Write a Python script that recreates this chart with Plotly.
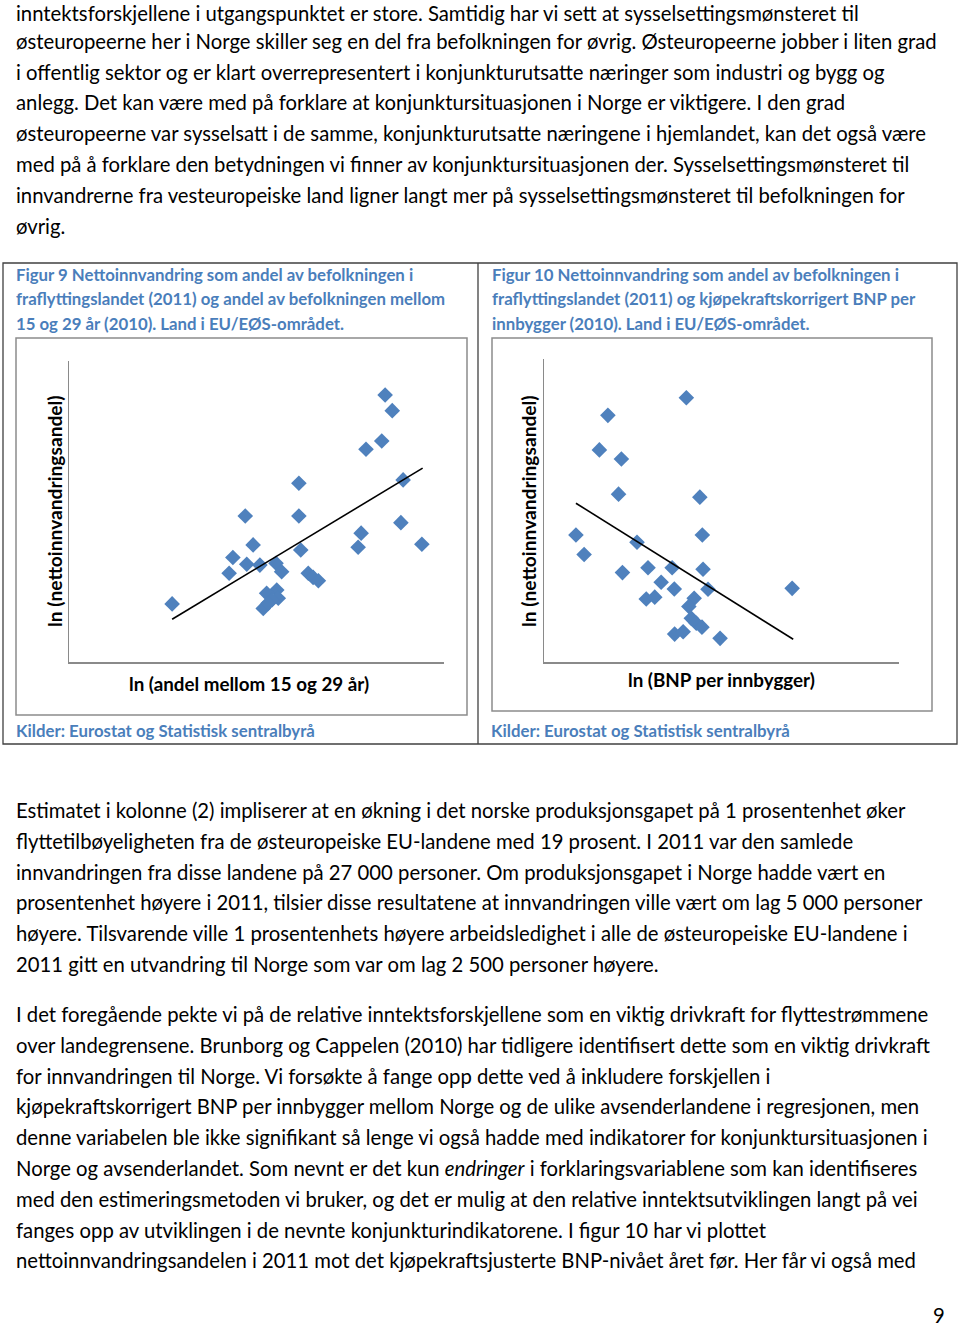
import plotly.graph_objects as go

W, H = 960, 1330

# ---------------- data (arbitrary index units) -------------
fig9_x = [84.3, 86.2, 83.4, 79.2, 89.1, 61.3, 47.0, 61.3, 88.5, 77.9, 77.1, 94.1, 49.1, 61.8, 43.7,
          47.4, 50.9, 55.2, 56.7, 42.7, 63.8, 65.1, 66.5, 27.5, 55.4, 52.7, 55.8, 54.1, 51.8, 53.1]
fig9_y = [88.7, 83.5, 73.4, 70.7, 60.5, 59.4, 48.5, 48.5, 46.3, 42.8, 38.1, 39.1, 38.9, 37.2, 34.7,
          32.5, 32.2, 32.8, 30.0, 29.5, 29.5, 28.1, 27.0, 19.3, 23.9, 22.8, 21.2, 20.6, 17.8, 19.5]
fig9_trend_x = [27.5, 94.3]
fig9_trend_y = [14.2, 64.4]

fig10_x = [40.1, 18.0, 15.6, 21.8, 21.0, 43.9, 9.0, 44.6, 26.2, 11.3, 22.1, 29.3, 36.1, 44.8,
           33.0, 36.7, 46.2, 69.9, 28.8, 31.2, 42.3, 40.8, 41.5, 42.9, 44.5, 36.8, 39.2, 49.6]
fig10_y = [87.2, 81.4, 70.0, 67.0, 55.4, 54.4, 41.9, 41.9, 39.5, 35.5, 29.5, 31.1, 31.1, 30.6,
           26.3, 24.1, 24.0, 24.3, 20.8, 21.4, 21.0, 18.3, 14.4, 12.8, 11.5, 9.2, 10.0, 7.8]
fig10_trend_x = [9.0, 70.2]
fig10_trend_y = [52.4, 7.5]

fig9_title = ["Figur 9 Nettoinnvandring som andel av befolkningen i",
              "fraflyttingslandet (2011) og andel av befolkningen mellom",
              "15 og 29 år (2010). Land i EU/EØS-området."]
fig10_title = ["Figur 10 Nettoinnvandring som andel av befolkningen i",
               "fraflyttingslandet (2011) og kjøpekraftskorrigert BNP per",
               "innbygger (2010). Land i EU/EØS-området."]
source_text = "Kilder: Eurostat og Statistisk sentralbyrå"
y_title = "ln (nettoinnvandringsandel)"
fig9_xtitle = "ln (andel mellom 15 og 29 år)"
fig10_xtitle = "ln (BNP per innbygger)"

para_top = [
    "inntektsforskjellene i utgangspunktet er store. Samtidig har vi sett at sysselsettingsmønsteret til",
    "østeuropeerne her i Norge skiller seg en del fra befolkningen for øvrig. Østeuropeerne jobber i liten grad",
    "i offentlig sektor og er klart overrepresentert i konjunkturutsatte næringer som industri og bygg og",
    "anlegg. Det kan være med på forklare at konjunktursituasjonen i Norge er viktigere. I den grad",
    "østeuropeerne var sysselsatt i de samme, konjunkturutsatte næringene i hjemlandet, kan det også være",
    "med på å forklare den betydningen vi finner av konjunktursituasjonen der. Sysselsettingsmønsteret til",
    "innvandrerne fra vesteuropeiske land ligner langt mer på sysselsettingsmønsteret til befolkningen for",
    "øvrig.",
]
para_mid = [
    "Estimatet i kolonne (2) impliserer at en økning i det norske produksjonsgapet på 1 prosentenhet øker",
    "flyttetilbøyeligheten fra de østeuropeiske EU-landene med 19 prosent. I 2011 var den samlede",
    "innvandringen fra disse landene på 27 000 personer. Om produksjonsgapet i Norge hadde vært en",
    "prosentenhet høyere i 2011, tilsier disse resultatene at innvandringen ville vært om lag 5 000 personer",
    "høyere. Tilsvarende ville 1 prosentenhets høyere arbeidsledighet i alle de østeuropeiske EU-landene i",
    "2011 gitt en utvandring til Norge som var om lag 2 500 personer høyere.",
]
para_bot = [
    "I det foregående pekte vi på de relative inntektsforskjellene som en viktig drivkraft for flyttestrømmene",
    "over landegrensene. Brunborg og Cappelen (2010) har tidligere identifisert dette som en viktig drivkraft",
    "for innvandringen til Norge. Vi forsøkte å fange opp dette ved å inkludere forskjellen i",
    "kjøpekraftskorrigert BNP per innbygger mellom Norge og de ulike avsenderlandene i regresjonen, men",
    "denne variabelen ble ikke signifikant så lenge vi også hadde med indikatorer for konjunktursituasjonen i",
    "Norge og avsenderlandet. Som nevnt er det kun <i>endringer</i> i forklaringsvariablene som kan identifiseres",
    "med den estimeringsmetoden vi bruker, og det er mulig at den relative inntektsutviklingen langt på vei",
    "fanges opp av utviklingen i de nevnte konjunkturindikatorene. I figur 10 har vi plottet",
    "nettoinnvandringsandelen i 2011 mot det kjøpekraftsjusterte BNP-nivået året før. Her får vi også med",
]
page_number = "9"

# ---------------- styles ----------------
BLUE = "#4F81BD"
TITLE_BLUE = "#4A7EBB"
BODY_FONT = "Lato"
BODY_SIZE = 20.3
LINE_H = 30.8


def px(x):
    return x / W


def py(y):
    return 1 - y / H


fig = go.Figure()

marker = dict(symbol="diamond", size=12, color=BLUE, line=dict(width=0))
fig.add_trace(go.Scatter(x=fig9_x, y=fig9_y, mode="markers", marker=marker,
                         xaxis="x", yaxis="y", showlegend=False, cliponaxis=False))
fig.add_trace(go.Scatter(x=fig9_trend_x, y=fig9_trend_y, mode="lines",
                         line=dict(color="black", width=1.6), xaxis="x", yaxis="y", showlegend=False))
fig.add_trace(go.Scatter(x=fig10_x, y=fig10_y, mode="markers", marker=marker,
                         xaxis="x2", yaxis="y2", showlegend=False, cliponaxis=False))
fig.add_trace(go.Scatter(x=fig10_trend_x, y=fig10_trend_y, mode="lines",
                         line=dict(color="black", width=1.6), xaxis="x2", yaxis="y2", showlegend=False))

ax_common = dict(range=[0, 100], showgrid=False, zeroline=False, showticklabels=False,
                 ticks="", showline=True, linecolor="#8a8a8a", linewidth=1.5, fixedrange=True)

fig.update_layout(
    width=W, height=H,
    margin=dict(l=0, r=0, t=0, b=0),
    paper_bgcolor="white", plot_bgcolor="white",
    hovermode=False,
    xaxis=dict(domain=[px(69), px(444)], anchor="y", **ax_common),
    yaxis=dict(domain=[py(662), py(361)], anchor="x", **ax_common),
    xaxis2=dict(domain=[px(544), px(899)], anchor="y2", **ax_common),
    yaxis2=dict(domain=[py(662), py(359)], anchor="x2", **ax_common),
)

ann = []


def text(x, y, s, size=BODY_SIZE, color="black", bold=False, xanchor="left", angle=0, family=BODY_FONT):
    ann.append(dict(x=px(x), y=py(y), xref="paper", yref="paper", text=(f"<b>{s}</b>" if bold else s),
                    showarrow=False, xanchor=xanchor, yanchor="middle", textangle=angle,
                    font=dict(family=family, size=size, color=color)))


# first line nudged slightly so its text box stays inside the page
top_y = [13.5] + [10 + i * LINE_H for i in range(1, len(para_top))]
for yy, s in zip(top_y, para_top):
    text(14, yy, s)
for i, s in enumerate(para_mid):
    text(14, 810 + i * LINE_H, s)
for i, s in enumerate(para_bot):
    text(14, 1014 + i * LINE_H, s)
text(947, 1315, page_number, xanchor="right")

for i, s in enumerate(fig9_title):
    text(14, 274 + i * 25, s, size=16.8, color=TITLE_BLUE, bold=True)
for i, s in enumerate(fig10_title):
    text(490, 274 + i * 25, s, size=16.8, color=TITLE_BLUE, bold=True)
text(14, 730, source_text, size=16.8, color=TITLE_BLUE, bold=True)
text(489, 730, source_text, size=16.8, color=TITLE_BLUE, bold=True)

text(55, 511, y_title, size=19.2, bold=True, xanchor="center", angle=-90)
text(529, 511, y_title, size=19.2, bold=True, xanchor="center", angle=-90)
text(249, 683, fig9_xtitle, size=18.8, bold=True, xanchor="center")
text(721, 679, fig10_xtitle, size=18.8, bold=True, xanchor="center")

fig.update_layout(annotations=ann)

shapes = [
    dict(type="rect", xref="paper", yref="paper", x0=px(3), x1=px(957), y0=py(744), y1=py(263),
         line=dict(color="#404040", width=1.3)),
    dict(type="line", xref="paper", yref="paper", x0=px(478), x1=px(478), y0=py(744), y1=py(263),
         line=dict(color="#404040", width=1.3)),
    dict(type="rect", xref="paper", yref="paper", x0=px(16), x1=px(467), y0=py(715), y1=py(338),
         line=dict(color="#8c8c8c", width=1.5)),
    dict(type="rect", xref="paper", yref="paper", x0=px(492), x1=px(932), y0=py(711), y1=py(338),
         line=dict(color="#8c8c8c", width=1.5)),
]
fig.update_layout(shapes=shapes)

# remove the browser's default 8px body margin so the 960x1330 figure fills the window exactly
fig.write_html("out.html", config={"displayModeBar": False, "staticPlot": True},
               post_script="document.body.style.margin='0';document.body.style.overflow='hidden';")
